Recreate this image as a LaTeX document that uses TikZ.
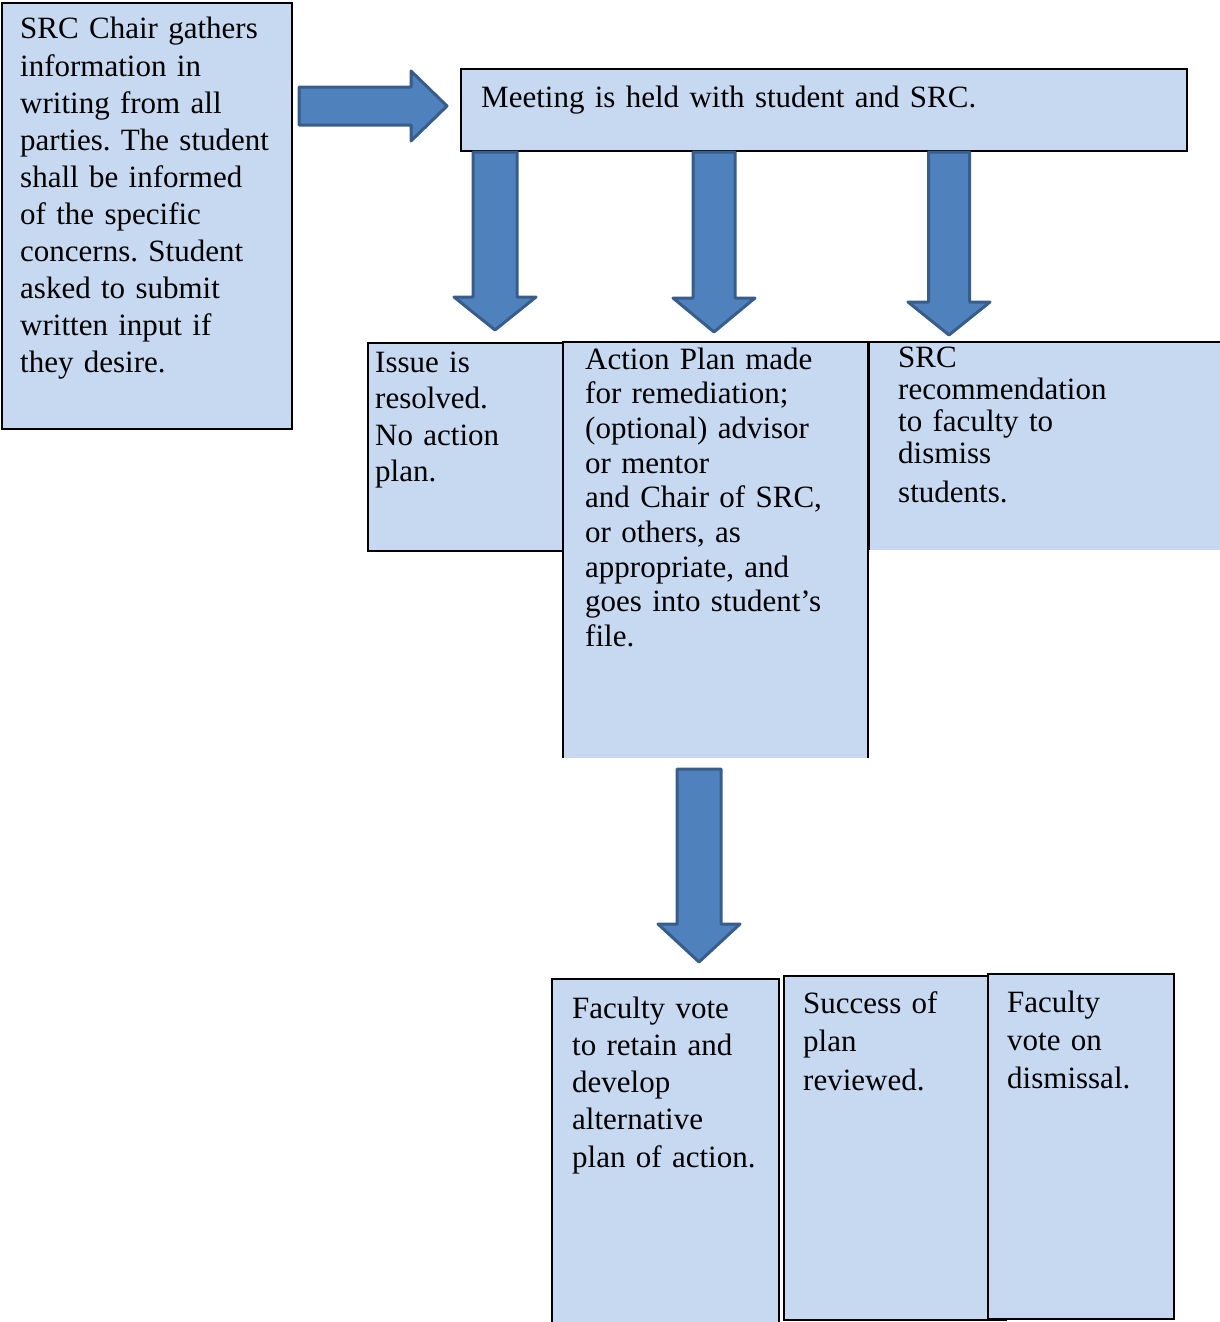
\documentclass[tikz,border=0pt]{standalone}
\usepackage{fontspec}
\setmainfont{Liberation Serif}
\frenchspacing
\usetikzlibrary{calc,positioning}
\definecolor{boxfill}{HTML}{C6D9F1}
\definecolor{arrowfill}{HTML}{4F81BD}
\definecolor{arrowline}{HTML}{385D8A}
\def\bshaft{21pt}\def\bhead{41pt}\def\blen{34pt}
\tikzset{
  box/.style={draw=black,line width=2pt,fill=boxfill,anchor=north west,inner sep=0pt},
  boxfill/.style={fill=boxfill,anchor=north west,inner sep=0pt},
  txt/.style={anchor=base west,inner sep=0pt,text width=330pt,align=left,
    font=\fontsize{31}{37}\selectfont},
  bshaft/.code={\def\bshaft{#1}},bhead/.code={\def\bhead{#1}},blen/.code={\def\blen{#1}},
  blockarrow/.style={draw=arrowline,fill=arrowfill,line width=3pt,line join=round,
    to path={let \p1=($(\tikztotarget)!\blen!(\tikztostart)$) in
      ($(\tikztostart)!\bshaft!90:(\tikztotarget)$) -- ($(\p1)!\bshaft!90:(\tikztotarget)$)
      -- ($(\p1)!\bhead!90:(\tikztotarget)$) -- (\tikztotarget)
      -- ($(\p1)!\bhead!-90:(\tikztotarget)$) -- ($(\p1)!\bshaft!-90:(\tikztotarget)$)
      -- ($(\tikztostart)!\bshaft!-90:(\tikztotarget)$) -- cycle}}
}
\begin{document}
\begin{tikzpicture}[x=1pt,y=-1pt]
\useasboundingbox (0,0) rectangle (1220,1322);

% boxes
\node[box,minimum width=290,minimum height=426] (gather) at (1,2) {};
\node[box,minimum width=726,minimum height=82] (meet) at (460,68) {};
\node[box,minimum width=196,minimum height=208] (issue) at (367,342) {};
\node[boxfill,minimum width=305,minimum height=416] (action) at (563,342) {};
\node[boxfill,minimum width=351,minimum height=208] (recom) at (869,342) {};
\draw[line width=2pt] (action.south west) -- (action.north west) -- (action.north east) -- (action.south east);
\draw[line width=2pt] (recom.south west) -- (recom.north west) -- (recom.north east);
\node[box,minimum width=227,minimum height=346] (retain) at (551,978) {};
\node[box,minimum width=222,minimum height=344] (review) at (783,975) {};
\node[box,minimum width=186,minimum height=345] (dismiss) at (987,973) {};

% texts
\node[txt,font=\fontsize{31}{37.1}\selectfont] (gathertxt) at ($(gather.north west)+(19,37)$)
  {SRC Chair gathers\\information in\\writing from all\\parties. The student\\shall be informed\\of the specific\\concerns. Student\\asked to submit\\written input if\\they desire.};
\node[txt,text width=700pt] (meettxt) at ($(meet.north west)+(21,39)$) {Meeting is held with student and SRC.};
\node[txt,font=\fontsize{31}{36.5}\selectfont] (issuetxt) at ($(issue.north west)+(8,30)$)
  {Issue is\\resolved.\\No action\\plan.};
\node[txt,font=\fontsize{31}{34.7}\selectfont] (actiontxt) at ($(action.north west)+(22,27)$)
  {Action Plan made\\for remediation;\\(optional) advisor\\or mentor\\and Chair of SRC,\\or others, as\\appropriate, and\\goes into student’s\\file.};
\node[txt,font=\fontsize{31}{32}\selectfont] (recomtxt) at ($(recom.north west)+(29,25)$)
  {SRC\\recommendation\\to faculty to\\dismiss\\[7pt]students.};
\node[txt,font=\fontsize{31}{37.3}\selectfont] (retaintxt) at ($(retain.north west)+(21,40)$)
  {Faculty vote\\to retain and\\develop\\alternative\\plan of action.};
\node[txt,font=\fontsize{31}{38.5}\selectfont] (reviewtxt) at ($(review.north west)+(20,38)$)
  {Success of\\plan\\reviewed.};
\node[txt,font=\fontsize{31}{38}\selectfont] (dismisstxt) at ($(dismiss.north west)+(20,39)$)
  {Faculty\\vote on\\dismissal.};

% arrows
\coordinate (a0) at (299,106);  \coordinate (a1) at (447,106);
\coordinate (b0) at (495,152);  \coordinate (b1) at (495,330);
\coordinate (c0) at (714,152);  \coordinate (c1) at (714,332);
\coordinate (d0) at (949,152);  \coordinate (d1) at (949,335);
\coordinate (e0) at (699,769);  \coordinate (e1) at (699,962);
\draw[blockarrow,bshaft=19pt,bhead=35pt,blen=36pt] (a0) to (a1);
\draw[blockarrow,bshaft=22pt,blen=33pt] (b0) to (b1);
\draw[blockarrow] (c0) to (c1);
\draw[blockarrow,bshaft=20.5pt,blen=33pt] (d0) to (d1);
\draw[blockarrow,bshaft=22pt,blen=38pt] (e0) to (e1);
\end{tikzpicture}
\end{document}
